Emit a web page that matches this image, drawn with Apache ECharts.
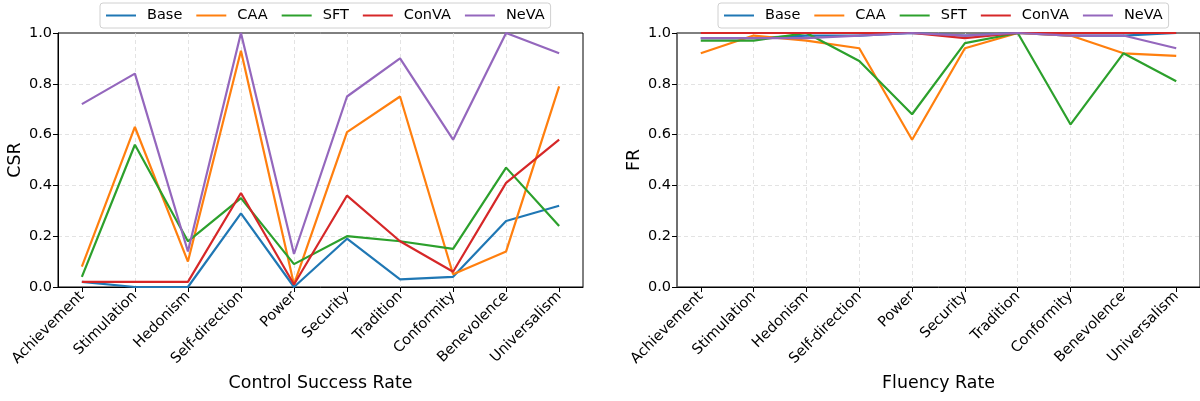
<!DOCTYPE html>
<html><head><meta charset="utf-8">
<script src="https://cdn.jsdelivr.net/npm/echarts@6/dist/echarts.min.js"></script>
<style>html,body{margin:0;padding:0;background:#fff}#c{width:1200px;height:401px}</style>
</head><body><div id="c"></div>
<script>
const categories = ['Achievement','Stimulation','Hedonism','Self-direction','Power','Security','Tradition','Conformity','Benevolence','Universalism'];
const seriesNames = ['Base','CAA','SFT','ConVA','NeVA'];
const colors = ['#1f77b4','#ff7f0e','#2ca02c','#d62728','#9467bd'];

const csrBase  = [0.02,0.00,0.00,0.29,0.00,0.19,0.03,0.04,0.26,0.32];
const csrCAA   = [0.08,0.63,0.10,0.93,0.01,0.61,0.75,0.05,0.14,0.79];
const csrSFT   = [0.04,0.56,0.18,0.35,0.09,0.20,0.18,0.15,0.47,0.24];
const csrConVA = [0.02,0.02,0.02,0.37,0.01,0.36,0.18,0.06,0.41,0.58];
const csrNeVA  = [0.72,0.84,0.14,1.00,0.13,0.75,0.90,0.58,1.00,0.92];

const frBase  = [0.98,0.98,0.99,0.99,1.00,0.99,1.00,0.99,0.99,1.00];
const frCAA   = [0.92,0.99,0.97,0.94,0.58,0.94,1.00,0.99,0.92,0.91];
const frSFT   = [0.97,0.97,1.00,0.89,0.68,0.96,1.00,0.64,0.92,0.81];
const frConVA = [1.00,1.00,1.00,1.00,1.00,0.98,1.00,1.00,1.00,1.00];
const frNeVA  = [0.98,0.98,0.98,0.99,1.00,0.99,1.00,0.99,0.99,0.94];

const xTitles = ['Control Success Rate','Fluency Rate'];
const yTitles = ['CSR','FR'];

const csrData = [csrBase,csrCAA,csrSFT,csrConVA,csrNeVA];
const frData = [frBase,frCAA,frSFT,frConVA,frNeVA];
const catIdx = categories.map((c,i)=>i);

const font = 'DejaVu Sans';
const grids = [
  {left:58, top:33, width:525, height:254, show:true, borderColor:'#000', borderWidth:1, backgroundColor:'transparent'},
  {left:677, top:33, width:525, height:254, show:true, borderColor:'#000', borderWidth:1, backgroundColor:'transparent'}
];
function xAxis(i){
  return {
    type:'value', gridIndex:i, min:-0.45, max:9.45,
    name:xTitles[i], nameLocation:'middle', nameGap:88,
    nameTextStyle:{fontFamily:font,fontSize:17.4,color:'#000'},
    axisLine:{show:true,onZero:false,lineStyle:{color:'#000',width:1}},
    axisTick:{show:true,customValues:catIdx,length:5,lineStyle:{color:'#000'}},
    axisLabel:{show:true,customValues:catIdx,rotate:45,fontFamily:font,fontSize:14.5,color:'#000',margin:7,
      formatter:v=>categories[Math.round(v)]},
    splitLine:{show:true,showMinLine:false,showMaxLine:false,lineStyle:{color:'#dcdcdc',type:[4,3],width:0.8}}
  };
}
function yAxis(i){
  return {
    type:'value', gridIndex:i, min:0, max:1, interval:0.2,
    name:yTitles[i], nameLocation:'middle', nameGap:34,
    nameTextStyle:{fontFamily:font,fontSize:17.4,color:'#000'},
    axisLine:{show:true,onZero:false,lineStyle:{color:i===1?'#6a6a6a':'#000',width:i===1?1.5:1}},
    axisTick:{show:true,length:5,lineStyle:{color:'#000'}},
    axisLabel:{fontFamily:font,fontSize:14.5,color:'#000',margin:6,formatter:v=>v.toFixed(1)},
    splitLine:{show:true,showMinLine:false,showMaxLine:false,lineStyle:{color:'#dcdcdc',type:[4,3],width:0.8}}
  };
}
function legend(left){
  return {
    left:left, top:3, orient:'horizontal',
    data:seriesNames, itemWidth:30, itemHeight:12, itemGap:14,
    icon:'path://M0,5 L30,5 L30,7 L0,7 Z',
    textStyle:{fontFamily:font,fontSize:14.5,color:'#000',padding:[0,0,0,6]},
    padding:[5,6,5,6], borderColor:'#d0d0d0', borderWidth:1, borderRadius:3,
    backgroundColor:'rgba(255,255,255,0.8)'
  };
}
const series = [];
[csrData, frData].forEach((set, g)=>{
  set.forEach((arr, k)=>{
    series.push({
      name:seriesNames[k], type:'line', xAxisIndex:g, yAxisIndex:g,
      data:arr.map((v,i)=>[i,v]), showSymbol:false, symbol:'none',
      lineStyle:{width:2.2,color:colors[k]}, itemStyle:{color:colors[k]},
      z:2+k, animation:false, clip:false
    });
  });
});
const chart = echarts.init(document.getElementById('c'), null, {renderer:'canvas'});
chart.setOption({
  animation:false,
  backgroundColor:'#fff',
  grid:grids,
  xAxis:[xAxis(0),xAxis(1)],
  yAxis:[yAxis(0),yAxis(1)],
  legend:[legend(100), legend(718)],
  series:series
});
</script></body></html>
